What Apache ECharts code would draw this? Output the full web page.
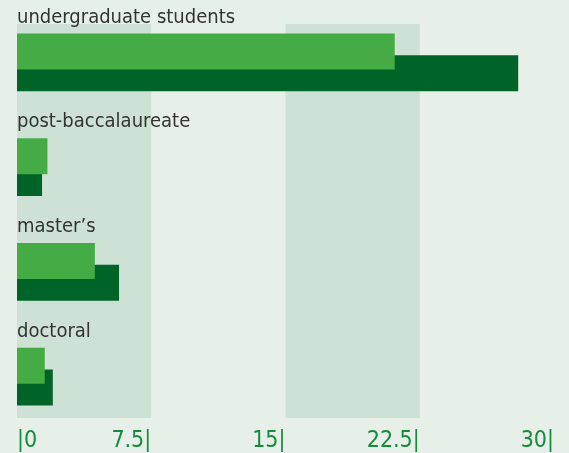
<!DOCTYPE html>
<html>
<head>
<meta charset="utf-8">
<script src="https://cdn.jsdelivr.net/npm/echarts@6/dist/echarts.min.js"></script>
<style>
  html, body { margin: 0; padding: 0; background: #e6f0e9; }
  #chart { width: 569px; height: 453px; }
</style>
</head>
<body>
<div id="chart"></div>
<script>
// categories, top to bottom
var categories = ['undergraduate students', 'post-baccalaureate', 'master\u2019s', 'doctoral'];
// two series per category (light bar on top, dark bar below)
var lightValues = [21.1, 1.7, 4.35, 1.55];
var darkValues = [28.0, 1.4, 5.7, 2.0];
var tickValues = [0, 7.5, 15, 22.5, 30];

var narrowFont = "'Liberation Sans Narrow', 'DejaVu Sans Condensed', 'Arial Narrow', sans-serif";

var chart = echarts.init(document.getElementById('chart'), null, { renderer: 'canvas' });

var option = {
  backgroundColor: '#e6f0e9',
  animation: false,
  grid: [
    // bars
    { left: 17, right: 15, top: 10, bottom: 24 },
    // shaded bands + tick labels
    { left: 17, right: 15, top: 24, bottom: 34 }
  ],
  xAxis: [
    {
      gridIndex: 0, type: 'value', min: 0, max: 30, interval: 7.5,
      show: false
    },
    {
      gridIndex: 1, type: 'value', min: 0, max: 30, interval: 7.5,
      axisLine: { show: false },
      axisTick: { show: false },
      splitLine: { show: false },
      splitArea: {
        show: true,
        areaStyle: { color: ['#cde2d4', 'rgba(0,0,0,0)'] }
      },
      axisLabel: {
        margin: 12,
        fontFamily: narrowFont,
        fontSize: 23,
        color: '#168b3b',
        align: 'right',
        alignMinLabel: 'left',
        formatter: function (v) {
          if (tickValues.indexOf(v) < 0) return '';
          return v === 0 ? '|0' : v + '|';
        }
      }
    }
  ],
  yAxis: [
    {
      gridIndex: 0, type: 'category', data: categories, inverse: true,
      axisLine: { show: false },
      axisTick: { show: false },
      axisLabel: {
        inside: true,
        margin: 0,
        align: 'left',
        verticalAlign: 'bottom',
        padding: [0, 0, 35, 0],
        fontFamily: narrowFont,
        fontSize: 20,
        color: '#333333'
      }
    },
    {
      gridIndex: 1, type: 'category', data: categories, show: false
    }
  ],
  series: [
    {
      name: 'Series 1',
      type: 'bar',
      xAxisIndex: 0, yAxisIndex: 0,
      data: lightValues,
      barWidth: 36,
      barGap: '-39%',
      z: 3,
      itemStyle: { color: '#45ac45' }
    },
    {
      name: 'Series 2',
      type: 'bar',
      xAxisIndex: 0, yAxisIndex: 0,
      data: darkValues,
      barWidth: 36,
      barGap: '-39%',
      z: 2,
      itemStyle: { color: '#006327' }
    }
  ]
};

chart.setOption(option);
</script>
</body>
</html>
